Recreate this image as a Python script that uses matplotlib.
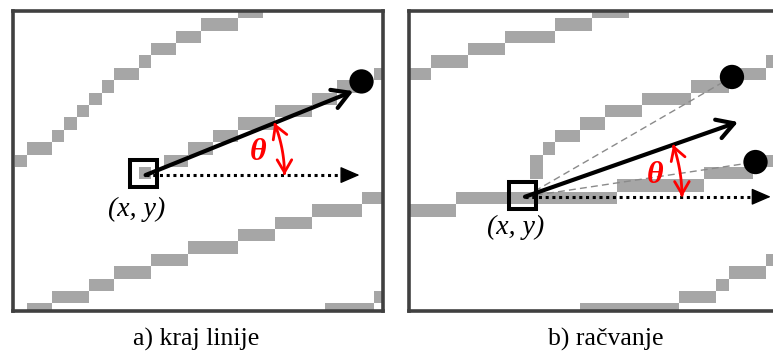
import numpy as np
import matplotlib
matplotlib.use('Agg')
import matplotlib.pyplot as plt
from matplotlib.patches import Circle, Rectangle, FancyArrowPatch
from matplotlib.path import Path

# Raster pixels of the drawn lines, as runs (column, row, run length) in grid cells
steps_a = [
    # upper left line
    (0, 12, 1), (1, 11, 2), (3, 10, 1), (4, 9, 1), (5, 8, 1), (6, 7, 1), (7, 6, 1),
    (8, 5, 2), (10, 4, 1), (11, 3, 2), (13, 2, 2), (15, 1, 3), (18, 0, 2),
    # line that ends at (x, y)
    (10, 13, 1), (12, 12, 2), (14, 11, 2), (16, 10, 2), (18, 9, 3), (21, 8, 3),
    (24, 7, 2), (26, 6, 2), (29, 5, 1),
    # lower line
    (1, 24, 2), (3, 23, 3), (6, 22, 2), (8, 21, 3), (11, 20, 3), (14, 19, 4),
    (18, 18, 3), (21, 17, 3), (24, 16, 4), (28, 15, 2),
    # corner
    (25, 24, 4), (29, 23, 1),
]
steps_b = [
    # top line
    (-1, 5, 2), (1, 4, 3), (4, 3, 3), (7, 2, 4), (11, 1, 3), (14, 0, 3),
    # upper branch
    (9, 12, 1), (9, 13, 1), (10, 11, 1), (11, 10, 2), (13, 9, 2), (15, 8, 3),
    (18, 7, 4), (22, 6, 3), (25, 5, 3), (28, 4, 2),
    # main line / lower branch
    (-1, 16, 4), (3, 15, 13), (16, 14, 7), (23, 13, 4), (27, 12, 3),
    # bottom line
    (13, 24, 8), (21, 23, 3), (24, 22, 1), (25, 21, 3), (28, 20, 2),
]

# points in grid cells
origin_a = (10.55, 13.65)
square_a = (10.34, 13.56)
tip_a = (27.3, 6.88)
dotted_end_a = 27.8
dots_a = [(27.96, 6.10)]
theta_a = (19.6, 11.8)
label_xy_a = (9.85, 16.45)

origin_b = (8.58, 15.4)
square_b = (8.38, 15.26)
tip_b = (25.76, 9.37)
dotted_end_b = 28.4
dots_b = [(25.27, 5.74), (27.17, 12.6)]
theta_b = (19.07, 13.65)
label_xy_b = (7.85, 17.9)

captions = ['a) kraj linije', 'b) račvanje']

W, H = 773, 351
CELL = 12.4
GRAY = '#a6a6a6'
FRAME = '#404040'


def panel(fig, left, top, right, bottom, gx, gy):
    ax = fig.add_axes([left / W, 1 - bottom / H, (right - left) / W, (bottom - top) / H])
    ax.set_xlim((left - gx) / CELL, (right - gx) / CELL)
    ax.set_ylim((bottom - gy) / CELL, (top - gy) / CELL)
    ax.set_xticks([])
    ax.set_yticks([])
    for s in ax.spines.values():
        s.set_color(FRAME)
        s.set_linewidth(2.6)
    return ax


def draw(ax, steps, origin, square, tip, dotted_end, dots, theta, label_xy, arc_r, dashed):
    for c, r, n in steps:
        ax.broken_barh([(c, n)], (r, 1), facecolors=GRAY, edgecolor='none', zorder=1)

    ox, oy = origin
    if dashed:
        for d in dots:
            ax.plot([ox, d[0]], [oy, d[1]], color='#8a8a8a', lw=1.0,
                    dashes=(5, 3), zorder=2)

    # dotted reference direction
    ax.plot([ox, dotted_end - 1.0], [oy, oy], color='black', lw=2.2,
            linestyle=(0, (1, 1.2)), zorder=3)
    ax.annotate('', xy=(dotted_end, oy), xytext=(dotted_end - 1.2, oy),
                arrowprops=dict(arrowstyle='-|>,head_length=0.6,head_width=0.26',
                                mutation_scale=20, color='black', lw=1,
                                shrinkA=0, shrinkB=0), zorder=3)

    # direction arrow
    ax.annotate('', xy=tip, xytext=origin,
                arrowprops=dict(arrowstyle='->,head_length=0.6,head_width=0.35',
                                mutation_scale=20, color='black', lw=3.0,
                                shrinkA=0, shrinkB=0), zorder=4)

    # angle arc
    ang = np.arctan2(oy - tip[1], tip[0] - ox)
    t = np.linspace(0.0, ang, 40)
    verts = np.column_stack([ox + arc_r * np.cos(t), oy - arc_r * np.sin(t)])
    ax.add_patch(FancyArrowPatch(path=Path(verts),
                                 arrowstyle='<->,head_length=0.6,head_width=0.35',
                                 mutation_scale=15, color='red', lw=2.0, zorder=5))

    side = 2.18
    ax.add_patch(Rectangle((square[0] - side / 2, square[1] - side / 2), side, side,
                           fill=False, edgecolor='black', lw=2.9, zorder=6))
    for d in dots:
        ax.add_patch(Circle(d, 0.98, facecolor='black', edgecolor='none', zorder=6))

    ax.text(*theta, 'θ', color='red', fontsize=23, family='Liberation Serif',
            style='italic', weight='bold', ha='center', va='center', zorder=7)
    ax.text(*label_xy, '(x, y)', color='black', fontsize=20, family='Liberation Serif',
            style='italic', ha='center', va='center', zorder=7)


fig = plt.figure(figsize=(W / 100, H / 100), dpi=100)

ax_a = panel(fig, 13, 11, 383, 311, 14.8, 5.8)
draw(ax_a, steps_a, origin_a, square_a, tip_a, dotted_end_a, dots_a, theta_a,
     label_xy_a, 11.2, False)

ax_b = panel(fig, 409.5, 11, 800, 311, 418.6, 5.8)
draw(ax_b, steps_b, origin_b, square_b, tip_b, dotted_end_b, dots_b, theta_b,
     label_xy_b, 12.66, True)

for x, txt in zip([196, 606], captions):
    fig.text(x / W, 1 - 346 / H, txt, ha='center', va='baseline', fontsize=18.5,
             family='Liberation Serif')

fig.savefig('out.png', dpi=100)
